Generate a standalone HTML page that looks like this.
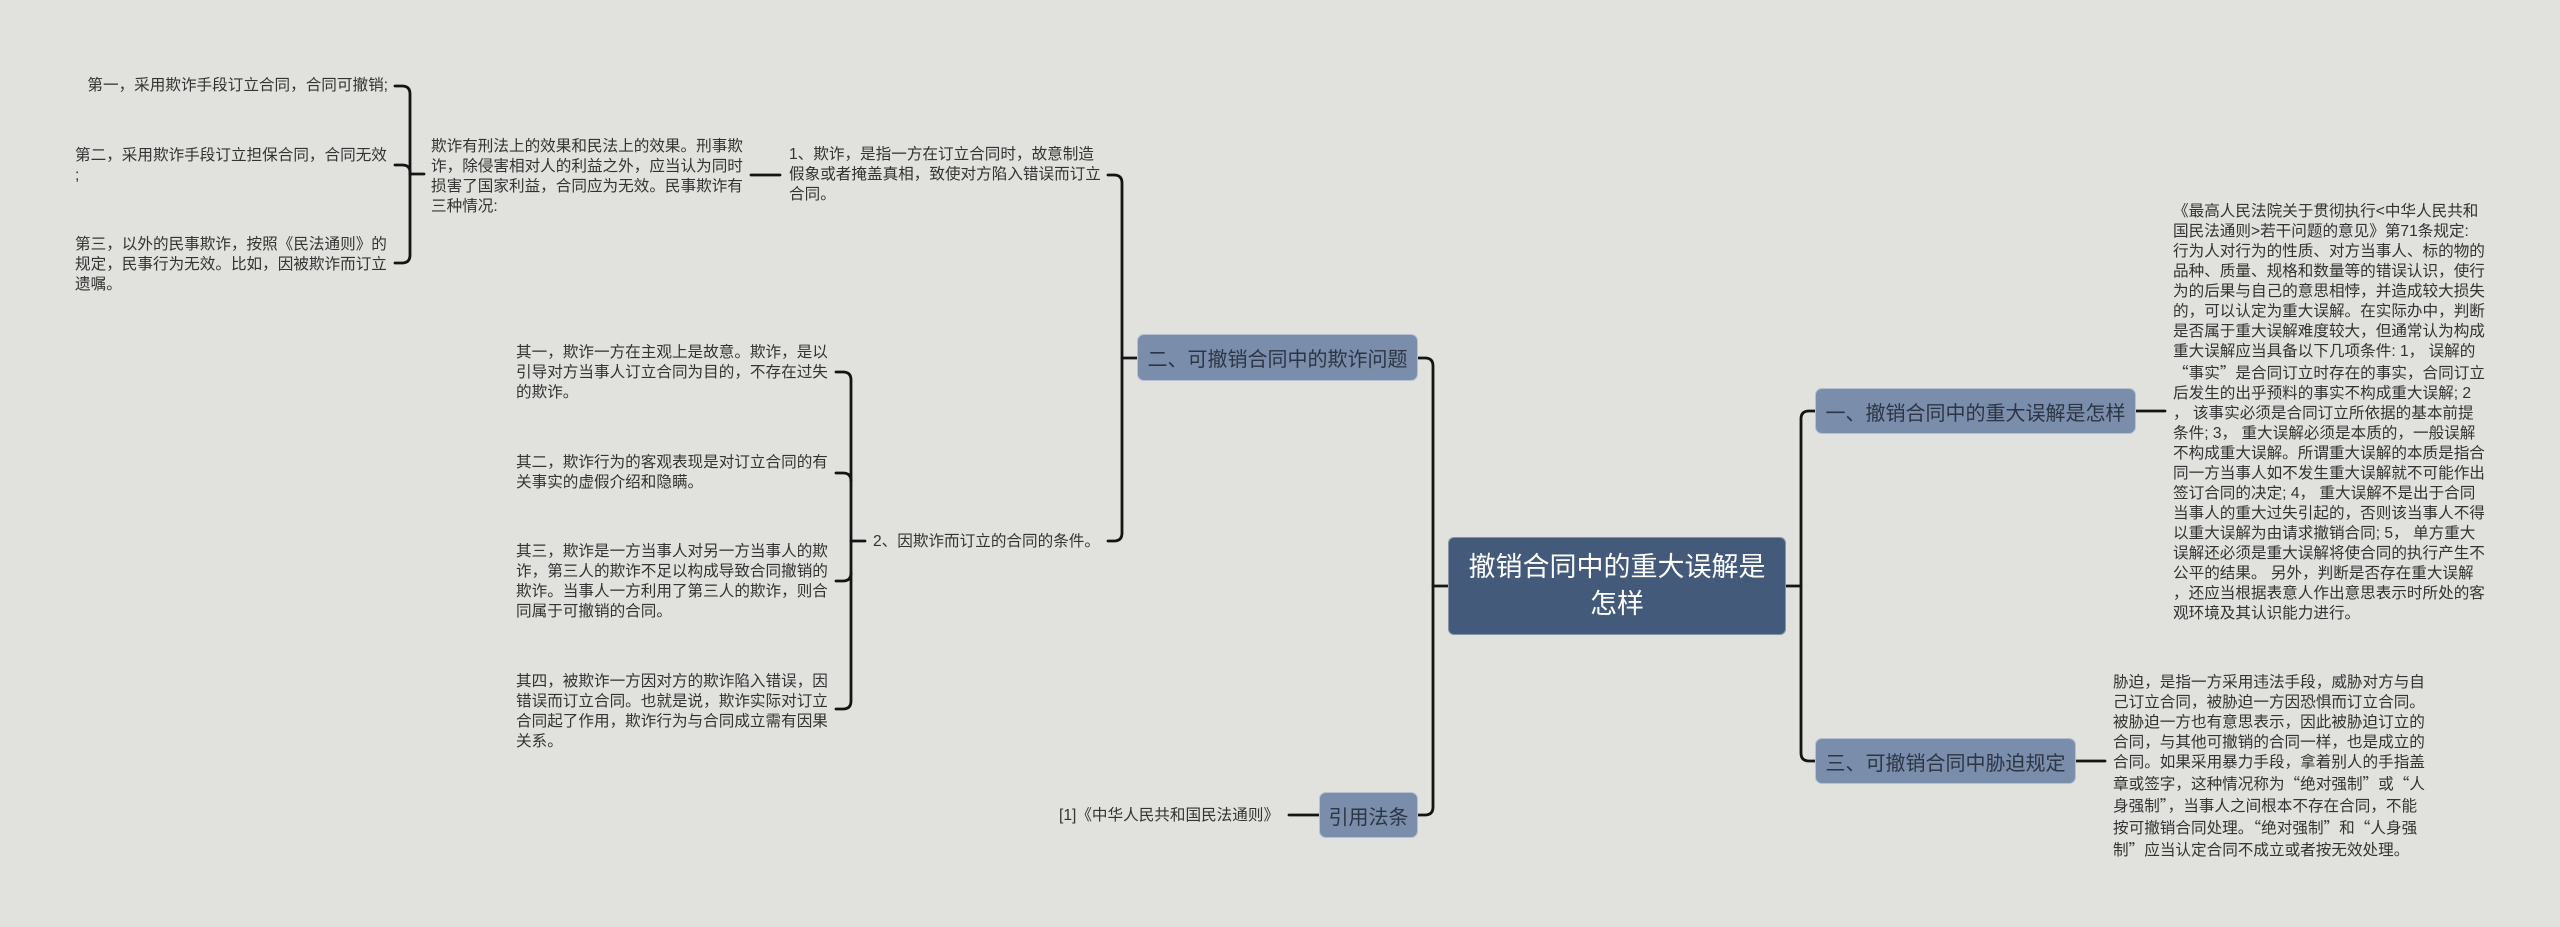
<!DOCTYPE html>
<html lang="zh">
<head>
<meta charset="utf-8">
<style>
  html, body { margin:0; padding:0; }
  body {
    width:2560px; height:927px; position:relative; overflow:hidden;
    background:#e1e1dd;
    font-family:"Liberation Sans","Noto Sans CJK SC",sans-serif;
  }
  .t {
    position:absolute; font-size:15.6px; line-height:20px; color:#333;
    white-space:nowrap;
  }
  .q { font-family:"Noto Sans CJK SC",sans-serif; }
  .n {
    position:absolute; box-sizing:border-box;
    background:#7a8dab; border:1px solid rgba(255,255,255,0.45);
    border-radius:7px; color:#2c3544; font-size:20px;
    display:flex; align-items:center; justify-content:center;
    white-space:nowrap;
  }
  .root {
    position:absolute; box-sizing:border-box;
    background:#435a7a; border:1px solid rgba(255,255,255,0.35);
    border-radius:6px; color:#fff; font-size:27px; line-height:37px;
    text-align:center; display:flex; align-items:center; justify-content:center;
  }
  svg { position:absolute; left:0; top:0; }
</style>
</head>
<body>

<svg width="2560" height="927" viewBox="0 0 2560 927">
  <g fill="none" stroke="#141414" stroke-width="2.8" stroke-linecap="round" stroke-linejoin="round">
    <!-- root left trunk -->
    <path d="M1448,586 H1433"/>
    <path d="M1418,358 H1425 Q1433,358 1433,366 V807 Q1433,815 1425,815 H1418"/>
    <!-- root right trunk -->
    <path d="M1786,586 H1801"/>
    <path d="M1815,411 H1809 Q1801,411 1801,419 V753 Q1801,761 1809,761 H1815"/>
    <!-- node 二 left -->
    <path d="M1137,358 H1122"/>
    <path d="M1108,175 H1114 Q1122,175 1122,183 V533 Q1122,541 1114,541 H1108"/>
    <!-- 1、 left to 欺诈有刑法 -->
    <path d="M751,175 H780"/>
    <!-- 欺诈有刑法 bracket -->
    <path d="M410,174 H424"/>
    <path d="M395,86 H402 Q410,86 410,94 V255 Q410,263 402,263 H395"/>
    <path d="M395,165 H402 Q410,165 410,172"/>
    <!-- 2、 bracket -->
    <path d="M851,541 H865"/>
    <path d="M836,372 H843 Q851,372 851,380 V701 Q851,709 843,709 H836"/>
    <path d="M836,473 H843 Q851,473 851,481"/>
    <path d="M836,581 H843 Q851,581 851,573"/>
    <!-- 引用法条 child -->
    <path d="M1289,815 H1319"/>
    <!-- right children -->
    <path d="M2136,411 H2165"/>
    <path d="M2076,761 H2105"/>
  </g>
</svg>

<!-- Root -->
<div class="root" style="left:1448px;top:537px;width:338px;height:98px;">撤销合同中的重大误解是<br>怎样</div>

<!-- Level-1 nodes -->
<div class="n" style="left:1137px;top:334px;width:281px;height:47px;">二、可撤销合同中的欺诈问题</div>
<div class="n" style="left:1319px;top:792px;width:99px;height:46px;">引用法条</div>
<div class="n" style="left:1815px;top:388px;width:321px;height:46px;">一、撤销合同中的重大误解是怎样</div>
<div class="n" style="left:1815px;top:738px;width:261px;height:46px;">三、可撤销合同中胁迫规定</div>

<!-- Left-most texts -->
<div class="t" style="left:75px;top:76px;width:313px;text-align:right;">第一，采用欺诈手段订立合同，合同可撤销;</div>
<div class="t" style="left:75px;top:146px;">第二，采用欺诈手段订立担保合同，合同无效<br>;</div>
<div class="t" style="left:75px;top:235px;">第三，以外的民事欺诈，按照《民法通则》的<br>规定，民事行为无效。比如，因被欺诈而订立<br>遗嘱。</div>

<div class="t" style="left:431px;top:137px;">欺诈有刑法上的效果和民法上的效果。刑事欺<br>诈，除侵害相对人的利益之外，应当认为同时<br>损害了国家利益，合同应为无效。民事欺诈有<br>三种情况:</div>

<div class="t" style="left:789px;top:145px;">1、欺诈，是指一方在订立合同时，故意制造<br>假象或者掩盖真相，致使对方陷入错误而订立<br>合同。</div>

<div class="t" style="left:516px;top:343px;">其一，欺诈一方在主观上是故意。欺诈，是以<br>引导对方当事人订立合同为目的，不存在过失<br>的欺诈。</div>
<div class="t" style="left:516px;top:453px;">其二，欺诈行为的客观表现是对订立合同的有<br>关事实的虚假介绍和隐瞒。</div>
<div class="t" style="left:516px;top:542px;">其三，欺诈是一方当事人对另一方当事人的欺<br>诈，第三人的欺诈不足以构成导致合同撤销的<br>欺诈。当事人一方利用了第三人的欺诈，则合<br>同属于可撤销的合同。</div>
<div class="t" style="left:516px;top:672px;">其四，被欺诈一方因对方的欺诈陷入错误，因<br>错误而订立合同。也就是说，欺诈实际对订立<br>合同起了作用，欺诈行为与合同成立需有因果<br>关系。</div>

<div class="t" style="left:873px;top:532px;">2、因欺诈而订立的合同的条件。</div>

<div class="t" style="left:1059px;top:806px;">[1]《中华人民共和国民法通则》</div>

<!-- Right texts -->
<div class="t" style="left:2173px;top:202px;">《最高人民法院关于贯彻执行&lt;中华人民共和<br>国民法通则&gt;若干问题的意见》第71条规定:<br>行为人对行为的性质、对方当事人、标的物的<br>品种、质量、规格和数量等的错误认识，使行<br>为的后果与自己的意思相悖，并造成较大损失<br>的，可以认定为重大误解。在实际办中，判断<br>是否属于重大误解难度较大，但通常认为构成<br>重大误解应当具备以下几项条件: 1， 误解的<br><span class="q">“</span>事实<span class="q">”</span>是合同订立时存在的事实，合同订立<br>后发生的出乎预料的事实不构成重大误解; 2<br>， 该事实必须是合同订立所依据的基本前提<br>条件; 3， 重大误解必须是本质的，一般误解<br>不构成重大误解。所谓重大误解的本质是指合<br>同一方当事人如不发生重大误解就不可能作出<br>签订合同的决定; 4， 重大误解不是出于合同<br>当事人的重大过失引起的，否则该当事人不得<br>以重大误解为由请求撤销合同; 5， 单方重大<br>误解还必须是重大误解将使合同的执行产生不<br>公平的结果。 另外，判断是否存在重大误解<br>，还应当根据表意人作出意思表示时所处的客<br>观环境及其认识能力进行。</div>

<div class="t" style="left:2113px;top:673px;">胁迫，是指一方采用违法手段，威胁对方与自<br>己订立合同，被胁迫一方因恐惧而订立合同。<br>被胁迫一方也有意思表示，因此被胁迫订立的<br>合同，与其他可撤销的合同一样，也是成立的<br>合同。如果采用暴力手段，拿着别人的手指盖<br>章或签字，这种情况称为<span class="q">“</span>绝对强制<span class="q">”</span>或<span class="q">“</span>人<br>身强制<span class="q">”</span>，当事人之间根本不存在合同，不能<br>按可撤销合同处理。<span class="q">“</span>绝对强制<span class="q">”</span>和<span class="q">“</span>人身强<br>制<span class="q">”</span>应当认定合同不成立或者按无效处理。</div>

</body>
</html>
